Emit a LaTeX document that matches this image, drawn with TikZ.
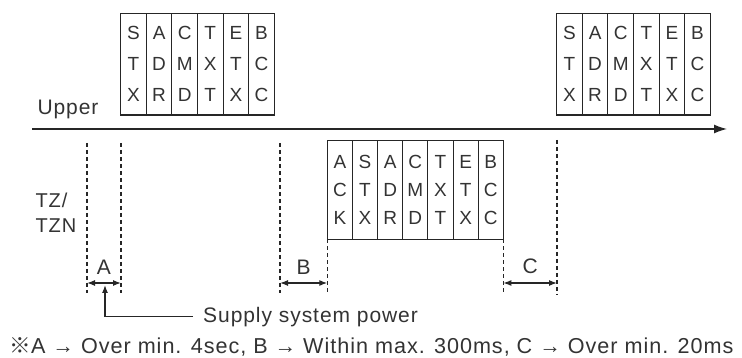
\documentclass[tikz,border=0pt]{standalone}
\usepackage{fontspec}
\setmainfont{Liberation Sans}
\newfontfamily\widefont[LetterSpace=4.5]{Liberation Sans}
\newfontfamily\markfont{Noto Sans CJK SC}
\usepackage{tikz}
\usetikzlibrary{arrows.meta, positioning}

\begin{document}
\begin{tikzpicture}[
  x=1pt, y=-1pt,
  cell/.style={
    draw=black!85,
    line width=1.1pt,
    outer sep=0pt,
    inner sep=0pt,
    minimum width=25.6pt,
    minimum height=101.7pt,
    align=center,
    text=black!80,
    font=\fontsize{19}{31}\selectfont
  },
  ackcell/.style={
    cell,
    minimum width=25.15pt,
    minimum height=98.6pt,
    font=\fontsize{19}{28.3}\selectfont
  },
  lbl/.style={text=black!80, font=\widefont\fontsize{21}{25}\selectfont},
  axis/.style={-{Latex[length=13pt,width=9pt]}, line width=1.3pt, draw=black!85},
  guide/.style={dash pattern=on 4pt off 3pt, line width=1.2pt, draw=black!85},
  dim/.style={{Latex[length=8pt,width=6pt]}-{Latex[length=8pt,width=6pt]}, line width=1.2pt, draw=black!85},
  arrow/.style={-{Latex[length=8pt,width=6pt]}, line width=1.2pt, draw=black!85}
]
  \useasboundingbox (0,0) rectangle (742,358);

  % upper side, first frame
  \node[cell, anchor=north west] (stx1) at (120.7,13.3) {S\\T\\X};
  \node[cell, right=0pt of stx1] (adr1) {A\\D\\R};
  \node[cell, right=0pt of adr1] (cmd1) {C\\M\\D};
  \node[cell, right=0pt of cmd1] (txt1) {T\\X\\T};
  \node[cell, right=0pt of txt1] (etx1) {E\\T\\X};
  \node[cell, right=0pt of etx1] (bcc1) {B\\C\\C};

  % upper side, next frame
  \node[cell, anchor=north west] (stx3) at (556.7,13.3) {S\\T\\X};
  \node[cell, right=0pt of stx3] (adr3) {A\\D\\R};
  \node[cell, right=0pt of adr3] (cmd3) {C\\M\\D};
  \node[cell, right=0pt of cmd3] (txt3) {T\\X\\T};
  \node[cell, right=0pt of txt3] (etx3) {E\\T\\X};
  \node[cell, right=0pt of etx3] (bcc3) {B\\C\\C};

  % answer frame
  \node[ackcell, anchor=north west] (ack2) at (327.3,140.7) {A\\C\\K};
  \node[ackcell, right=0pt of ack2] (stx2) {S\\T\\X};
  \node[ackcell, right=0pt of stx2] (adr2) {A\\D\\R};
  \node[ackcell, right=0pt of adr2] (cmd2) {C\\M\\D};
  \node[ackcell, right=0pt of cmd2] (txt2) {T\\X\\T};
  \node[ackcell, right=0pt of txt2] (etx2) {E\\T\\X};
  \node[ackcell, right=0pt of etx2] (bcc2) {B\\C\\C};

  \node[lbl, anchor=base west] (upper) at (34,115) {Upper};
  \node[lbl, align=left, anchor=west, font=\widefont\fontsize{20}{24.7}\selectfont] (tz) at (32,213) {TZ/\\TZN};

  \coordinate (t0) at (32,129);
  \coordinate (t1) at (727,129);
  \draw[axis] (t0) -- (t1);

  \coordinate (ga) at (87,143);
  \coordinate (gb) at (121,143);
  \coordinate (gc) at (280,143);
  \coordinate (gf) at (557,140);
  \draw[guide] (ga) -- ++(0,150);
  \draw[guide] (gb) -- ++(0,150);
  \draw[guide] (gc) -- ++(0,150);
  \draw[guide] (ack2.south west) -- ++(0,54);
  \draw[guide] (bcc2.south east) -- ++(0,54);
  \draw[guide] (gf) -- ++(0,155);

  \draw[dim] (ga |- 0,283) -- node[lbl, above=5pt]{A} (gb |- 0,283);
  \draw[dim] (gc |- 0,283) -- node[lbl, above=5pt]{B} (ack2.west |- 0,283);
  \draw[dim] (bcc2.east |- 0,283) -- node[lbl, above=5pt]{C} (gf |- 0,283);

  \node[lbl, anchor=west, inner xsep=10pt] (supply) at (193,316.7) {Supply system power};
  \coordinate (pw) at (105,285);
  \draw[arrow] (supply.west) -| (pw);

  \node[lbl, anchor=west, font=\widefont\fontsize{21.6}{25}\selectfont] (note) at (6,347)
  {{\markfont ※}A → Over min. 4sec, B → Within max. 300ms, C → Over min. 20ms};
\end{tikzpicture}
\end{document}
